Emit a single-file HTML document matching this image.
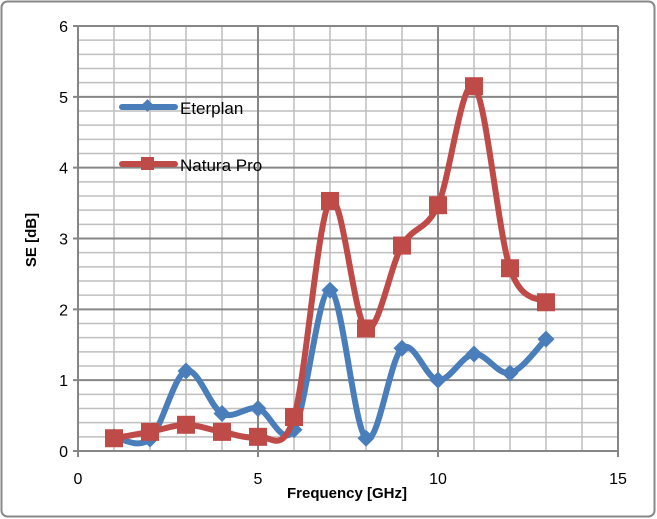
<!DOCTYPE html>
<html><head><meta charset="utf-8"><style>
html,body{margin:0;padding:0;background:#fff;}
svg{display:block;font-family:"Liberation Sans",sans-serif;}
</style></head><body>
<svg id="chart" width="657" height="519" viewBox="0 0 657 519">
<rect x="1.5" y="1.5" width="653" height="515" rx="6" fill="#fff" stroke="#888" stroke-width="2"/>
<g id="grid"></g>
<g id="axes"></g>
<g id="series"></g>
<g id="legend">
 <g>
  <line x1="122" y1="107" x2="175" y2="107" stroke="#4a7ebb" stroke-width="6" stroke-linecap="round"/>
  <rect x="143" y="101" width="9" height="9" fill="#4a7ebb" transform="rotate(45 147.5 105.5)"/>
  <text x="180" y="114" font-size="17" fill="#000">Eterplan</text>
 </g>
 <g>
  <line x1="122" y1="164" x2="175" y2="164" stroke="#be4b48" stroke-width="6" stroke-linecap="round"/>
  <rect x="141" y="157" width="13" height="13" fill="#be4b48"/>
  <text x="180" y="171" font-size="17" fill="#000">Natura Pro</text>
 </g>
</g>
<text transform="translate(36 240) rotate(-90)" text-anchor="middle" font-size="15" font-weight="bold">SE [dB]</text>
<text x="347" y="498" text-anchor="middle" font-size="15" font-weight="bold">Frequency [GHz]</text>
</svg>
<script>
const freqs=[1,2,3,4,5,6,7,8,9,10,11,12,13];
const eterplan=[0.2,0.17,1.13,0.53,0.6,0.3,2.27,0.18,1.45,1.0,1.37,1.1,1.58];
const naturaPro=[0.18,0.27,0.37,0.27,0.2,0.48,3.53,1.73,2.9,3.47,5.15,2.58,2.1];
const xTicks=[0,5,10,15];
const yTicks=[0,1,2,3,4,5,6];
const NS='http://www.w3.org/2000/svg';
const X0=78,X1=618,Y0=451,Y1=26;
const xs=v=>X0+(v-0)/15*(X1-X0);
const ys=v=>Y0-(v-0)/6*(Y0-Y1);
function mk(tag,attrs,parent){const e=document.createElementNS(NS,tag);for(const k in attrs)e.setAttribute(k,attrs[k]);parent.appendChild(e);return e;}
const grid=document.getElementById('grid'),axes=document.getElementById('axes'),ser=document.getElementById('series');
for(let i=0;i<=30;i++){const v=i*0.2;if(i%5===0)continue;
 const l=mk('line',{x1:X0,x2:X1,y1:ys(v),y2:ys(v),stroke:'#bfbfbf','stroke-width':1.5},grid);
 
 }
for(let i=1;i<=15;i++){if(i%5===0)continue;
 const l=mk('line',{x1:xs(i),x2:xs(i),y1:Y1,y2:Y0,stroke:'#bfbfbf','stroke-width':1.5},grid);
 
 }
yTicks.forEach(v=>{
 const l=mk('line',{x1:X0-5,x2:X1,y1:ys(v),y2:ys(v),stroke:'#868686','stroke-width':2},grid);
 
 
 const t=mk('text',{x:68,y:ys(v)+6,'text-anchor':'end','font-size':16},axes);t.textContent=v;
 
 });
xTicks.forEach(v=>{
 const l=mk('line',{x1:xs(v),x2:xs(v),y1:Y1,y2:Y0+6,stroke:'#868686','stroke-width':2},grid);
 
 
 const t=mk('text',{x:xs(v),y:484,'text-anchor':'middle','font-size':16},axes);t.textContent=v;
 
 });
function smooth(pts){let d='M'+pts[0][0]+','+pts[0][1];
 for(let i=0;i<pts.length-1;i++){const p0=pts[i-1]||pts[i],p1=pts[i],p2=pts[i+1],p3=pts[i+2]||p2;
  const c1=[p1[0]+(p2[0]-p0[0])/6,p1[1]+(p2[1]-p0[1])/6],c2=[p2[0]-(p3[0]-p1[0])/6,p2[1]-(p3[1]-p1[1])/6];
  d+=' C'+c1+' '+c2+' '+p2;}return d;}
function draw(vals,color,name,marker){
 const pts=freqs.map((f,i)=>[xs(f),ys(vals[i])]);
 const p=mk('path',{d:smooth(pts),fill:'none',stroke:color,'stroke-width':6,'stroke-linejoin':'round'},ser);
 
 
 pts.forEach(q=>{let m;
  if(marker==='diamond'){m=mk('rect',{x:q[0]-6,y:q[1]-6,width:12,height:12,fill:color,transform:'rotate(45 '+q[0]+' '+q[1]+')'},ser);}
  else{m=mk('rect',{x:q[0]-9,y:q[1]-9,width:18,height:18,fill:color},ser);}
  
  });}
draw(eterplan,'#4a7ebb','eterplan','diamond');
draw(naturaPro,'#be4b48','natura-pro','square');
</script>
</body></html>
